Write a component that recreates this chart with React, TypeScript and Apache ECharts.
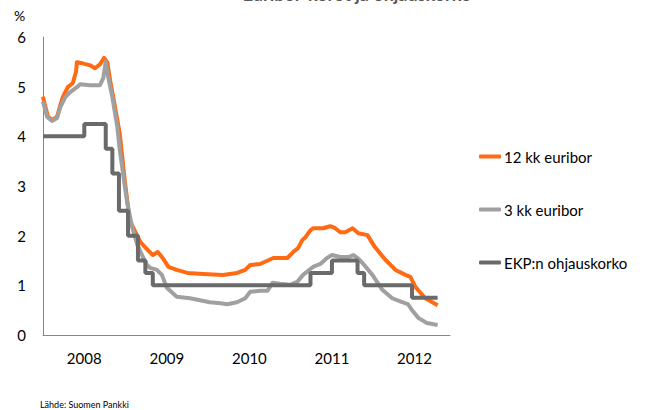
import React, { useEffect, useRef } from "react";
import * as echarts from "echarts";

// Dates as decimal years, values in %
const euribor12Dates = [2008.00, 2008.02, 2008.06, 2008.11, 2008.17, 2008.21, 2008.24, 2008.30, 2008.36, 2008.40, 2008.41, 2008.48, 2008.57, 2008.63, 2008.69, 2008.74, 2008.78, 2008.81, 2008.85, 2008.93, 2008.99, 2009.05, 2009.14, 2009.18, 2009.27, 2009.33, 2009.39, 2009.45, 2009.52, 2009.62, 2009.75, 2009.94, 2010.18, 2010.35, 2010.45, 2010.51, 2010.63, 2010.79, 2010.96, 2011.03, 2011.09, 2011.14, 2011.18, 2011.24, 2011.27, 2011.39, 2011.48, 2011.54, 2011.60, 2011.66, 2011.75, 2011.82, 2011.93, 2012.02, 2012.15, 2012.27, 2012.39, 2012.45, 2012.51, 2012.63, 2012.78];
const euribor12Values = [4.80, 4.65, 4.40, 4.33, 4.39, 4.63, 4.79, 4.99, 5.07, 5.30, 5.49, 5.47, 5.43, 5.37, 5.45, 5.58, 5.49, 5.15, 4.80, 4.05, 3.12, 2.31, 2.00, 1.87, 1.71, 1.61, 1.67, 1.55, 1.37, 1.31, 1.25, 1.23, 1.21, 1.25, 1.31, 1.41, 1.43, 1.55, 1.55, 1.67, 1.75, 1.91, 1.97, 2.11, 2.15, 2.15, 2.19, 2.15, 2.07, 2.07, 2.15, 2.05, 2.01, 1.77, 1.51, 1.31, 1.21, 1.17, 0.97, 0.74, 0.60];

const euribor3Dates = [2008.00, 2008.05, 2008.11, 2008.17, 2008.21, 2008.27, 2008.33, 2008.41, 2008.45, 2008.57, 2008.69, 2008.73, 2008.76, 2008.79, 2008.84, 2008.90, 2008.93, 2009.02, 2009.08, 2009.14, 2009.21, 2009.26, 2009.30, 2009.38, 2009.44, 2009.50, 2009.62, 2009.78, 2009.90, 2010.02, 2010.15, 2010.23, 2010.35, 2010.45, 2010.51, 2010.63, 2010.72, 2010.78, 2010.87, 2010.99, 2011.08, 2011.15, 2011.27, 2011.36, 2011.44, 2011.50, 2011.60, 2011.70, 2011.76, 2011.81, 2011.87, 2011.99, 2012.11, 2012.23, 2012.35, 2012.42, 2012.47, 2012.55, 2012.65, 2012.78];
const euribor3Values = [4.70, 4.39, 4.31, 4.37, 4.59, 4.79, 4.89, 4.99, 5.05, 5.03, 5.03, 5.17, 5.50, 5.19, 4.79, 4.19, 3.72, 2.66, 2.17, 1.83, 1.57, 1.41, 1.35, 1.31, 1.21, 0.95, 0.77, 0.74, 0.70, 0.66, 0.64, 0.62, 0.66, 0.74, 0.87, 0.89, 0.89, 1.05, 1.03, 1.01, 1.07, 1.21, 1.37, 1.43, 1.55, 1.61, 1.57, 1.57, 1.61, 1.55, 1.45, 1.21, 0.91, 0.74, 0.66, 0.62, 0.50, 0.34, 0.24, 0.20];

const ecbDates = [2008.00, 2008.50, 2008.76, 2008.84, 2008.92, 2009.03, 2009.15, 2009.24, 2009.33, 2011.24, 2011.50, 2011.81, 2011.89, 2012.47, 2012.78];
const ecbValues = [4.00, 4.25, 3.75, 3.25, 2.50, 2.00, 1.50, 1.25, 1.00, 1.25, 1.50, 1.25, 1.00, 0.75, 0.75];

const seriesNames = ["12 kk euribor", "3 kk euribor", "EKP:n ohjauskorko"];
const seriesColors = ["#FF6A13", "#A0A0A0", "#6A6A6A"];
const yearLabels = ["2008", "2009", "2010", "2011", "2012"];

const zip = (xs: number[], ys: number[]) => xs.map((x, i) => [x, ys[i]]);

export default function App() {
  const ref = useRef<HTMLDivElement>(null);
  useEffect(() => {
    document.body.style.margin = "0";
    if (!ref.current) return;
    const chart = echarts.init(ref.current, undefined, { renderer: "svg" });
    const font = "Lato, 'Open Sans', sans-serif";
    chart.setOption({
      animation: false,
      textStyle: { fontFamily: font },
      grid: { left: 43, right: 203, top: 37, bottom: 75, containLabel: false },
      xAxis: {
        type: "value",
        min: 2008,
        max: 2012.93,
        interval: 0.5,
        axisLine: { show: true, lineStyle: { color: "#868686", width: 1 } },
        axisTick: { show: false },
        splitLine: { show: false },
        axisLabel: {
          color: "#000",
          fontSize: 15,
          fontFamily: font,
          margin: 15,
          showMinLabel: false,
          showMaxLabel: false,
          formatter: (v: number) => {
            const y = Math.floor(v);
            if (Math.abs(v - y - 0.5) < 0.01) {
              const idx = y - 2008;
              return yearLabels[idx] ?? "";
            }
            return "";
          },
        },
      },
      yAxis: {
        type: "value",
        min: 0,
        max: 6,
        interval: 1,
        axisLine: { show: true, lineStyle: { color: "#868686", width: 1 } },
        axisTick: { show: false },
        splitLine: { show: false },
        axisLabel: { color: "#000", fontSize: 15, fontFamily: font, margin: 17 },
      },
      legend: {
        orient: "vertical",
        left: 474,
        top: 144,
        itemGap: 38,
        itemWidth: 22,
        itemHeight: 4,
        icon: "roundRect",
        textStyle: { color: "#000", fontSize: 15, fontFamily: font, padding: [0, 0, 0, -2] },
        data: seriesNames,
      },
      series: [
        {
          name: seriesNames[0],
          type: "line",
          data: zip(euribor12Dates, euribor12Values),
          showSymbol: false,
          symbol: "none",
          lineStyle: { color: seriesColors[0], width: 4, join: "round" },
          itemStyle: { color: seriesColors[0] },
        },
        {
          name: seriesNames[1],
          type: "line",
          data: zip(euribor3Dates, euribor3Values),
          showSymbol: false,
          symbol: "none",
          lineStyle: { color: seriesColors[1], width: 4, join: "round" },
          itemStyle: { color: seriesColors[1] },
        },
        {
          name: seriesNames[2],
          type: "line",
          step: "end",
          data: zip(ecbDates, ecbValues),
          showSymbol: false,
          symbol: "none",
          lineStyle: { color: seriesColors[2], width: 4 },
          itemStyle: { color: seriesColors[2] },
        },
      ],
      graphic: [
        {
          type: "text",
          left: 14,
          top: 8,
          style: { text: "%", fontSize: 14, fill: "#000", fontFamily: font },
        },
        {
          type: "text",
          x: 357,
          y: 3,
          style: {
            text: "Euribor-korot ja ohjauskorko",
            fontSize: 18,
            fontWeight: "bold",
            fill: "#595959",
            fontFamily: font,
            align: "center",
            verticalAlign: "bottom",
          },
        },
        {
          type: "text",
          left: 40,
          top: 400,
          style: { text: "Lähde: Suomen Pankki", fontSize: 9, fill: "#000", fontFamily: font },
        },
      ],
    });
    return () => chart.dispose();
  }, []);
  return <div ref={ref} style={{ width: 653, height: 410 }} />;
}
